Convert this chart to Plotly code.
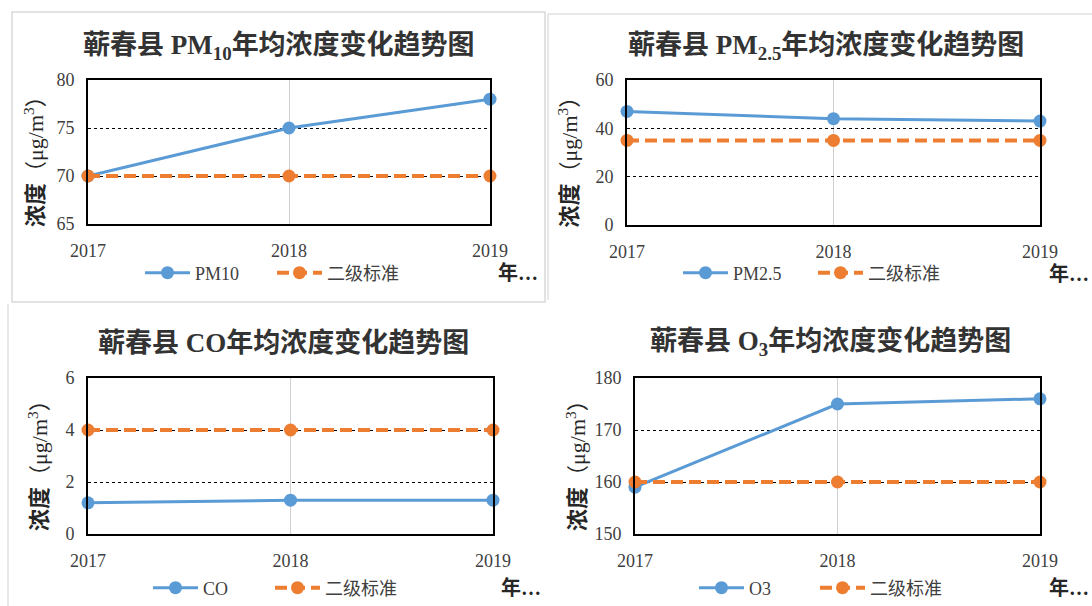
import plotly.graph_objects as go

years = ["2017", "2018", "2019"]

pm10 = [70, 75, 78]
pm10_std = [70, 70, 70]
pm25 = [47, 44, 43]
pm25_std = [35, 35, 35]
co = [1.2, 1.3, 1.3]
co_std = [4, 4, 4]
o3 = [159, 175, 176]
o3_std = [160, 160, 160]

titles = ["<b>蕲春县 PM<sub>10</sub>年均浓度变化趋势图</b>",
          "<b>蕲春县 PM<sub>2.5</sub>年均浓度变化趋势图</b>",
          "<b>蕲春县 CO年均浓度变化趋势图</b>",
          "<b>蕲春县 O<sub>3</sub>年均浓度变化趋势图</b>"]
names = ["PM10", "PM2.5", "CO", "O3"]
std_name = "二级标准"
ytitle = "<b>浓度</b>（μg/m<sup>3</sup>）"
xunit = "<b>年…</b>"

series = [pm10, pm25, co, o3]
stds = [pm10_std, pm25_std, co_std, o3_std]
yranges = [(65, 80, 5), (0, 60, 20), (0, 6, 2), (150, 180, 10)]

W, H = 1092, 606
# plot areas in pixels: left, right, top, bottom
boxes = [(88, 490, 80, 224), (627, 1040, 80, 225), (88, 493, 378, 534), (635, 1040, 378, 534)]
title_pos = [(279, 47), (826, 47), (283, 343), (830, 343)]
ytitle_x = [34, 568, 38, 576]
legend_pos = [(140, 273), (678, 273), (148, 588), (694, 588)]
legend_std_x = [272, 813, 270, 815]
unit_pos = [(540, 273), (1091, 274), (543, 588), (1091, 588)]

BLUE = "#5B9BD5"
ORANGE = "#ED7D31"
SERIF = "Liberation Serif, Noto Sans CJK SC, serif"

fig = go.Figure()
layout = dict(width=W, height=H, margin=dict(l=0, r=0, t=0, b=0, autoexpand=False),
              template="none", showlegend=True,
              paper_bgcolor="white", plot_bgcolor="white",
              font=dict(family=SERIF, size=18, color="#404040"),
              annotations=[], shapes=[])


def legend_cfg(px, py):
    return dict(x=px / W, y=1 - py / H, xanchor="left", yanchor="middle",
                orientation="h", bgcolor="rgba(0,0,0,0)",
                font=dict(family=SERIF, size=18, color="#404040"),
                itemwidth=45, tracegroupgap=0)


for i in range(4):
    sfx = "" if i == 0 else str(i + 1)
    xa, ya = "x" + sfx, "y" + sfx
    lg = "legend" + sfx
    lg_std = "legend" + str(i + 5)
    l, r, t, b = boxes[i]
    fig.add_trace(go.Scatter(x=years, y=series[i], name=names[i], mode="lines+markers",
                             line=dict(color=BLUE, width=3),
                             marker=dict(color=BLUE, size=13),
                             xaxis=xa, yaxis=ya, legend=lg, showlegend=True,
                             cliponaxis=False))
    fig.add_trace(go.Scatter(x=years, y=stds[i], name=std_name, mode="lines+markers",
                             line=dict(color=ORANGE, width=4, dash="12px,6px"),
                             marker=dict(color=ORANGE, size=13),
                             xaxis=xa, yaxis=ya, legend=lg_std, showlegend=True,
                             cliponaxis=False))
    y0, y1, dt = yranges[i]
    layout["xaxis" + sfx] = dict(domain=[l / W, r / W], anchor=ya, type="category",
                                 range=[0, 2], showline=True, mirror=True,
                                 linecolor="black", linewidth=2, automargin=False,
                                 showgrid=True, gridcolor="#d0d0d0", gridwidth=1,
                                 ticks="", ticklabelstandoff=9,
                                 tickfont=dict(family=SERIF, size=18, color="#404040"),
                                 fixedrange=True)
    layout["yaxis" + sfx] = dict(domain=[1 - b / H, 1 - t / H], anchor=xa,
                                 range=[y0, y1], dtick=dt, tick0=y0,
                                 showline=True, mirror=True, automargin=False,
                                 linecolor="black", linewidth=2,
                                 showgrid=True, gridcolor="black", gridwidth=1,
                                 griddash="dot", zeroline=False,
                                 ticks="", ticklabelstandoff=8,
                                 tickfont=dict(family=SERIF, size=18, color="#404040"),
                                 fixedrange=True)
    lx, ly = legend_pos[i]
    layout[lg] = legend_cfg(lx, ly)
    layout[lg_std] = legend_cfg(legend_std_x[i], ly)
    tx, ty = title_pos[i]
    layout["annotations"].append(dict(text=titles[i], x=tx / W, y=1 - ty / H,
                                      xref="paper", yref="paper", showarrow=False,
                                      xanchor="center", yanchor="middle",
                                      font=dict(family=SERIF, size=27, color="#333333")))
    layout["annotations"].append(dict(text=ytitle, x=ytitle_x[i] / W, y=1 - ((t + b) / 2 + 4) / H,
                                      xref="paper", yref="paper", showarrow=False,
                                      textangle=-90, xanchor="center", yanchor="middle",
                                      font=dict(family=SERIF, size=22, color="#262626")))
    ux, uy = unit_pos[i]
    layout["annotations"].append(dict(text=xunit, x=ux / W, y=1 - uy / H,
                                      xref="paper", yref="paper", showarrow=False,
                                      xanchor="right", yanchor="middle",
                                      font=dict(family=SERIF, size=20, color="#262626")))

# faint panel borders
layout["shapes"].append(dict(type="rect", xref="paper", yref="paper",
                             x0=12 / W, x1=545 / W, y0=1 - 302 / H, y1=1 - 12 / H,
                             line=dict(color="#d9d9d9", width=1.5)))
layout["shapes"].append(dict(type="line", xref="paper", yref="paper",
                             x0=548 / W, x1=1092 / W, y0=1 - 14 / H, y1=1 - 14 / H,
                             line=dict(color="#e0e0e0", width=1.5)))
layout["shapes"].append(dict(type="line", xref="paper", yref="paper",
                             x0=548 / W, x1=548 / W, y0=1 - 300 / H, y1=1 - 14 / H,
                             line=dict(color="#e0e0e0", width=1.5)))
layout["shapes"].append(dict(type="line", xref="paper", yref="paper",
                             x0=8 / W, x1=8 / W, y0=0, y1=1 - 304 / H,
                             line=dict(color="#e0e0e0", width=1.5)))

fig.update_layout(**layout)
fig.write_html("out.html", config={"displayModeBar": False},
               post_script="document.body.style.margin='0';document.body.style.overflow='hidden';")
